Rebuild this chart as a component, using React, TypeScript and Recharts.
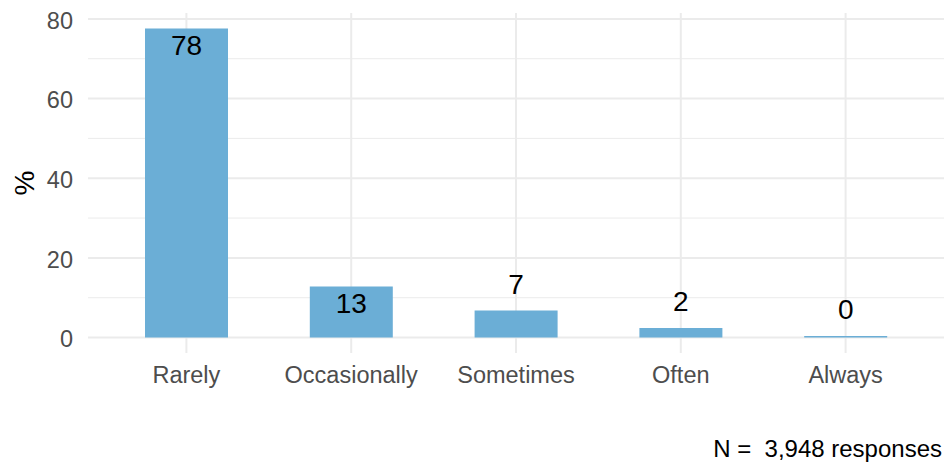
import { BarChart, Bar, XAxis, YAxis, CartesianGrid, LabelList } from 'recharts';

const categories = ['Rarely', 'Occasionally', 'Sometimes', 'Often', 'Always'];
const percents = [77.6, 12.8, 6.8, 2.4, 0.4];
const yTicks = [0, 20, 40, 60, 80];
const minorTicks = [10, 30, 50, 70];
const responses = 3948;

const data = categories.map((c, i) => ({ name: c, pct: percents[i] }));

const FONT = '"Liberation Sans", Arial, Helvetica, sans-serif';
const GRID = '#ebebeb';

function BarValue(props: any) {
  const { x, y, width, value } = props;
  const inside = value > 10;
  const cy = inside ? y + 16 : y - 27;
  return (
    <text
      x={x + width / 2}
      y={cy}
      dy="0.36em"
      textAnchor="middle"
      fontSize={28}
      fill="#000"
      fontFamily={FONT}
    >
      {Math.round(value)}
    </text>
  );
}

export default function App() {
  return (
    <div style={{ position: 'absolute', left: 0, top: 0, width: 945, height: 463, background: '#fff' }}>
      <BarChart
        width={945}
        height={463}
        data={data}
        margin={{ top: 13, right: 1, bottom: 50, left: 0 }}
        style={{ fontFamily: FONT }}
      >
        <CartesianGrid
          horizontalValues={minorTicks}
          vertical={false}
          syncWithTicks
          stroke={GRID}
          strokeWidth={1}
        />
        <CartesianGrid horizontalValues={yTicks} syncWithTicks stroke={GRID} strokeWidth={2} />
        <XAxis
          dataKey="name"
          axisLine={false}
          tickLine={false}
          tickSize={0}
          tickMargin={13}
          height={60}
          padding={{ left: 16, right: 16 }}
          tick={{ fill: '#4d4d4d', fontSize: 23.5 }}
        />
        <YAxis
          type="number"
          domain={[-3.88, 81.48]}
          ticks={yTicks}
          axisLine={false}
          tickLine={false}
          tickSize={0}
          tickMargin={15}
          width={88}
          tick={{ fill: '#4d4d4d', fontSize: 23.5, dy: 1.5 }}
          label={{
            content: () => (
              <text
                x={24}
                y={183}
                transform="rotate(-90, 24, 183)"
                textAnchor="middle"
                dy="0.36em"
                fontSize={28}
                fill="#000"
                fontFamily={FONT}
              >
                %
              </text>
            ),
          }}
        />
        <Bar dataKey="pct" fill="#6baed6" barSize={83} isAnimationActive={false}>
          <LabelList dataKey="pct" content={BarValue} />
        </Bar>
      </BarChart>
      <div
        style={{
          position: 'absolute',
          right: 3,
          top: 437,
          fontFamily: FONT,
          fontSize: 24,
          lineHeight: 1,
          color: '#000',
          whiteSpace: 'pre',
        }}
      >
        {`N =  ${responses.toLocaleString('en-US')} responses`}
      </div>
    </div>
  );
}
